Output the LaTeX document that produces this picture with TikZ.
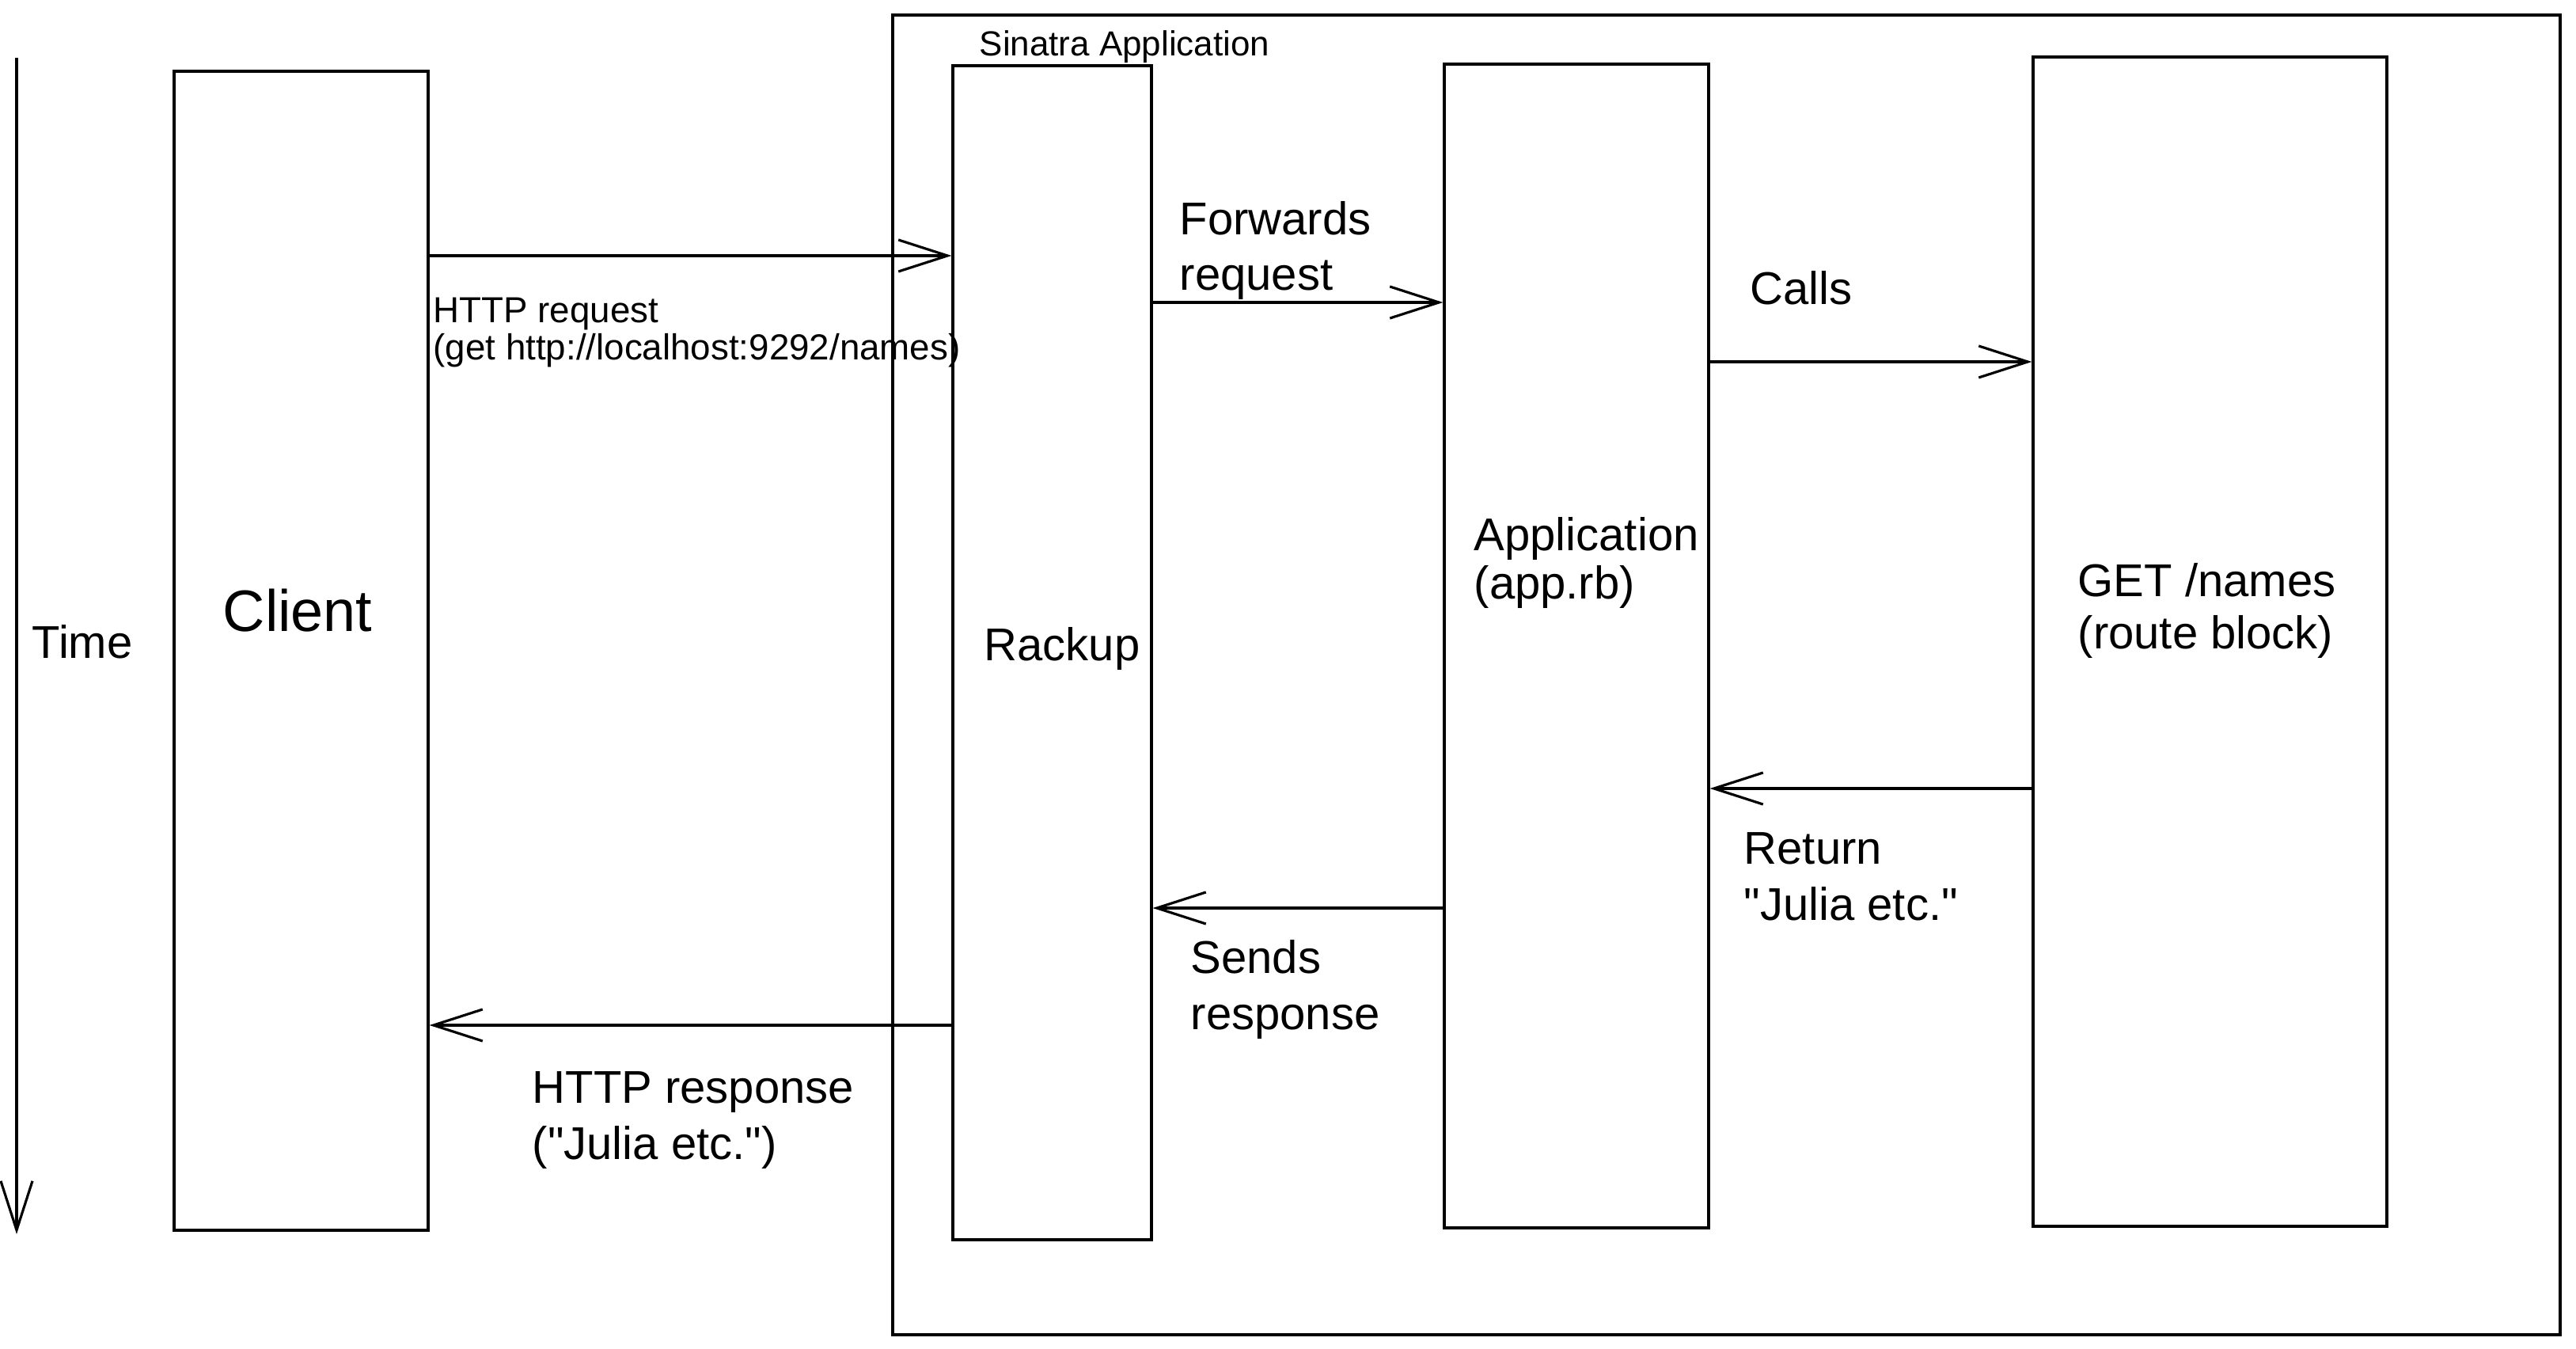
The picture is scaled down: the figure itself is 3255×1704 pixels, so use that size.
\documentclass[tikz,border=0pt]{standalone}
\usepackage{fontspec}
\setmainfont{Liberation Sans}[Ligatures=TeXOff]
\usetikzlibrary{arrows.meta,fit,positioning}
\tikzstyle{box}=[draw,line width=0.9pt,inner sep=0pt]
\tikzstyle{edge}=[draw,line width=0.9pt,-{Straight Barb[length=6.2mm,width=4mm]}]
\tikzstyle{lbl}=[anchor=base west,inner sep=0pt,align=left,font=\fontsize{16.5}{20}\selectfont]
\tikzstyle{smalllbl}=[lbl,font=\fontsize{13}{13.4}\selectfont]
\tikzstyle{biglbl}=[lbl,font=\fontsize{21}{25}\selectfont]

\begin{document}
\begin{tikzpicture}[x=0.01cm,y=-0.01cm]
    \useasboundingbox (0,0) rectangle (3255,1704);

    % frame and lifelines
    \node[box,fit={(1128,19) (3235,1686)}] (sinatra) {};
    \node[box,fit={(220,90) (541,1554)}] (client) {};
    \node[box,fit={(1204,83) (1455,1566)}] (rackup) {};
    \node[box,fit={(1825,81) (2159,1551)}] (app) {};
    \node[box,fit={(2569,72) (3016,1549)}] (route) {};

    % time axis
    \coordinate (tstart) at (21,73);
    \coordinate (tend) at (21,1559);
    \path[edge] (tstart) -- (tend);

    % requests going right
    \foreach \source/\dest/\y in {client/rackup/323, rackup/app/382, app/route/457}
            \path[edge] (\source.east |- 0,\y) -- (\dest.west |- 0,\y);
    % answers going left
    \foreach \source/\dest/\y in {route/app/996, app/rackup/1147, rackup/client/1295}
            \path[edge] (\source.west |- 0,\y) -- (\dest.east |- 0,\y);

    % box names (base = last line)
    \node[smalllbl,font=\fontsize{12.5}{13.4}\selectfont] (sinlbl) at (1237,71) {Sinatra Application};
    \node[lbl] (timelbl) at (40,832) {Time};
    \node[biglbl] (clientlbl) at (281,798) {Client};
    \node[lbl] (rackuplbl) at (1243,835) {Rackup};
    \node[lbl,font=\fontsize{16.5}{17.6}\selectfont] (applbl) at (1862,757) {Application\\(app.rb)};
    \node[lbl,font=\fontsize{16.5}{19}\selectfont] (routelbl) at (2625,820) {GET /names\\(route block)};

    % arrow texts
    \node[smalllbl] (reqlbl) at (547,455) {HTTP request\\(get http://localhost:9292/names)};
    \node[lbl] (fwdlbl) at (1490,367) {Forwards\\request};
    \node[lbl] (callslbl) at (2211,385) {Calls};
    \node[lbl] (retlbl) at (2203,1162) {Return\\"Julia etc."};
    \node[lbl] (sendslbl) at (1504,1300) {Sends\\response};
    \node[lbl] (resplbl) at (672,1464) {HTTP response\\("Julia etc.")};

\end{tikzpicture}
\end{document}
